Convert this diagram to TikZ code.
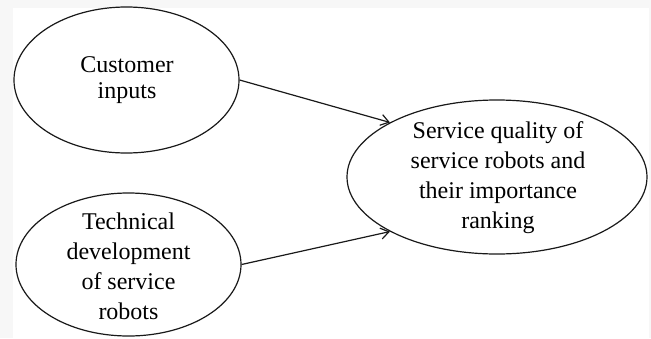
\documentclass[tikz,border=0pt]{standalone}
\usepackage{fontspec}
\setmainfont{Liberation Serif}
\usetikzlibrary{shapes.geometric,arrows.meta}
\begin{document}
\begin{tikzpicture}[x=1pt,y=-1pt,
  bubble/.style={draw=black!90, line width=1.2pt, ellipse, inner sep=0pt},
  txt/.style={align=center, inner sep=0pt, text=black},
  link/.style={draw=black!90, line width=1.2pt, -{Straight Barb[length=8pt,width=11pt,line width=1.2pt]}}]
\fill[black!3] (0,0) rectangle (651,338);
\fill[white] (13,8) rectangle (649,338);
\useasboundingbox (0,0) rectangle (651,338);
\node[bubble, minimum width=225pt, minimum height=146pt] (ci) at (126.5,80) {};
\node[bubble, minimum width=225pt, minimum height=143pt] (td) at (128.5,264.5) {};
\node[bubble, minimum width=300pt, minimum height=154pt] (sq) at (497,177) {};
\node[txt, font=\fontsize{24}{26}\selectfont] (cit) at (127,80) {Customer\\inputs};
\node[txt, font=\fontsize{24}{30}\selectfont] (tdt) at (128.5,266) {Technical\\development\\of service\\robots};
\node[txt, font=\fontsize{24}{30}\selectfont] (sqt) at (498,178) {Service quality of\\service robots and\\their importance\\ranking};
\draw[link] (ci.east) -- (sq.153);
\draw[link] (td.east) -- (sq.207);
\end{tikzpicture}
\end{document}
